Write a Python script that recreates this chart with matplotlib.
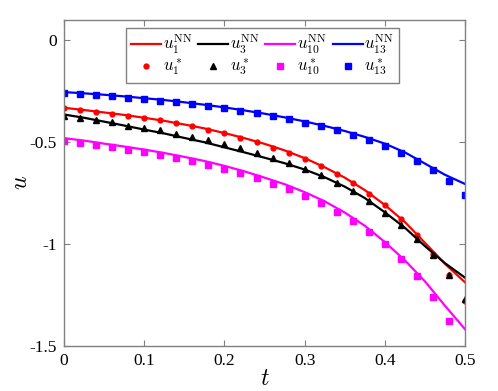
import numpy as np
import matplotlib.pyplot as plt

plt.rcParams['font.family'] = 'Liberation Serif'
plt.rcParams['mathtext.fontset'] = 'cm'
plt.rcParams['axes.unicode_minus'] = False

# network solution, sampled every 0.025
t_line = np.linspace(0, 0.5, 21)
u1_nn = [-0.331, -0.342, -0.354, -0.366, -0.380, -0.395, -0.413, -0.432, -0.455, -0.480, -0.508,
         -0.540, -0.578, -0.623, -0.674, -0.735, -0.808, -0.892, -0.994, -1.097, -1.188]
u3_nn = [-0.364, -0.380, -0.399, -0.418, -0.438, -0.457, -0.479, -0.500, -0.525, -0.550, -0.576,
         -0.603, -0.634, -0.672, -0.718, -0.774, -0.844, -0.920, -1.010, -1.094, -1.165]
u10_nn = [-0.480, -0.492, -0.507, -0.521, -0.536, -0.553, -0.572, -0.592, -0.616, -0.643, -0.674,
          -0.706, -0.745, -0.790, -0.845, -0.910, -0.990, -1.080, -1.183, -1.303, -1.418]
u13_nn = [-0.254, -0.260, -0.267, -0.275, -0.284, -0.293, -0.304, -0.316, -0.329, -0.344, -0.360,
          -0.378, -0.398, -0.420, -0.445, -0.474, -0.507, -0.550, -0.605, -0.660, -0.705]

# reference solution, sampled every 0.02
t_ref = np.linspace(0, 0.5, 26)
u1_ref = [-0.333, -0.340, -0.351, -0.360, -0.369, -0.381, -0.392, -0.407, -0.422, -0.440, -0.457,
          -0.479, -0.500, -0.526, -0.552, -0.583, -0.618, -0.655, -0.701, -0.752, -0.809, -0.875,
          -0.953, -1.046, -1.153, -1.281]
u3_ref = [-0.370, -0.379, -0.390, -0.403, -0.418, -0.428, -0.442, -0.458, -0.474, -0.490, -0.510,
          -0.530, -0.552, -0.576, -0.603, -0.630, -0.661, -0.698, -0.740, -0.789, -0.845, -0.906,
          -0.975, -1.054, -1.152, -1.271]
u10_ref = [-0.495, -0.503, -0.515, -0.525, -0.536, -0.549, -0.564, -0.578, -0.593, -0.611, -0.631,
           -0.652, -0.676, -0.703, -0.730, -0.763, -0.799, -0.840, -0.886, -0.940, -1.000, -1.072,
           -1.157, -1.258, -1.379, -1.560]
u13_ref = [-0.258, -0.263, -0.268, -0.275, -0.281, -0.289, -0.297, -0.305, -0.314, -0.322, -0.333,
           -0.346, -0.358, -0.371, -0.387, -0.404, -0.420, -0.441, -0.466, -0.490, -0.518, -0.552,
           -0.592, -0.637, -0.691, -0.761]

fig = plt.figure(figsize=(4.98, 3.91), dpi=100)
ax = fig.add_axes([0.1285, 0.115, 0.8055, 0.834])

l1, = ax.plot(t_line, u1_nn, color='red', lw=1.6)
m1, = ax.plot(t_ref, u1_ref, 'o', color='red', ms=3.5, ls='none')
l3, = ax.plot(t_line, u3_nn, color='black', lw=1.6)
m3, = ax.plot(t_ref, u3_ref, '^', color='black', ms=4.5, ls='none')
l10, = ax.plot(t_line, u10_nn, color='magenta', lw=1.6)
m10, = ax.plot(t_ref, u10_ref, 's', color='magenta', ms=4.5, ls='none')
l13, = ax.plot(t_line, u13_nn, color='blue', lw=1.6)
m13, = ax.plot(t_ref, u13_ref, 's', color='blue', ms=4.5, ls='none')

ax.set_xlim(0, 0.5)
ax.set_ylim(-1.5, 0.1)
ax.set_xticks([0, 0.1, 0.2, 0.3, 0.4, 0.5])
ax.set_xticklabels(['0', '0.1', '0.2', '0.3', '0.4', '0.5'])
ax.set_yticks([-1.5, -1, -0.5, 0])
ax.set_yticklabels(['-1.5', '-1', '-0.5', '0'])
ax.tick_params(direction='in', top=True, right=True, length=4, color='#808080',
               labelsize=12.5, pad=5)
for s in ax.spines.values():
    s.set_color('#808080')
    s.set_linewidth(1.0)

ax.set_xlabel('$t$', fontsize=17, labelpad=0)
ax.set_ylabel('$u$', fontsize=17, labelpad=-2)

handles = [l1, m1, l3, m3, l10, m10, l13, m13]
labels = [r'$u_1^{\mathrm{NN}}$', r'$u_1^*$', r'$u_3^{\mathrm{NN}}$', r'$u_3^*$',
          r'$u_{10}^{\mathrm{NN}}$', r'$u_{10}^*$', r'$u_{13}^{\mathrm{NN}}$', r'$u_{13}^*$']
leg = ax.legend(handles, labels, ncol=4, loc='upper center', bbox_to_anchor=(0.495, 0.976),
                borderaxespad=0, fontsize=12, handlelength=1.8, handletextpad=0.1,
                columnspacing=0.35, labelspacing=0.1, borderpad=0.3, fancybox=False,
                framealpha=1)
leg.get_frame().set_edgecolor('#808080')
leg.get_frame().set_linewidth(1.0)

fig.savefig('out.png', dpi=100)
